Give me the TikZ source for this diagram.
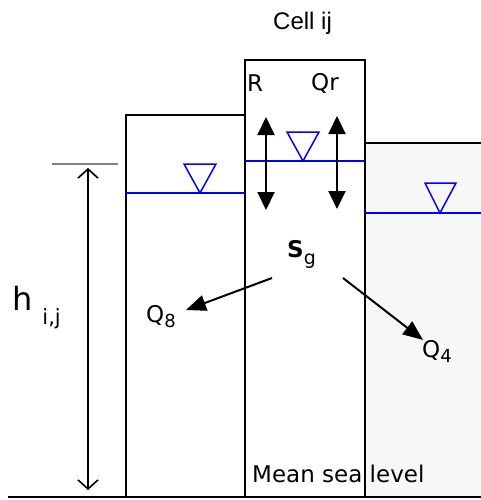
\documentclass[tikz,border=0pt]{standalone}
\usepackage{fontspec}
\setmainfont{Liberation Sans}
\newfontfamily\comicfont{DejaVu Sans}
\usetikzlibrary{arrows.meta}
\begin{document}
\begin{tikzpicture}[x=1pt, y=-1pt,
  every node/.style={inner sep=0pt, anchor=base west, font=\comicfont\fontsize{23}{26}\selectfont},
  column/.style={draw, line width=1.3pt},
  water/.style={draw=blue, line width=1.5pt},
  level/.style={draw=blue, line width=1.5pt, line join=miter},
  flux/.style={line width=2pt, -{Triangle[length=20pt, width=16pt]}},
  vflux/.style={line width=2pt, {Triangle[length=18pt, width=17pt]}-{Triangle[length=18pt, width=17pt]}},
  height/.style={line width=1.6pt, {Straight Barb[length=9pt, width=20pt]}-{Straight Barb[length=9pt, width=20pt]}}
]
\useasboundingbox (0,0) rectangle (481,500);

% right cell, shaded
\fill[gray!6] (365,143) rectangle (481,497);

% columns
\draw[column] (126,497) -- (126,115) -- (245,115);
\draw[column] (245,497) -- (245,60) -- (365,60) -- (365,497);
\draw[column] (365,143) -- (481,143);
\draw[column] (8,497) -- (481,497);

% water levels
\draw[water] (126,193) -- (245,193);
\draw[water] (245,161) -- (365,161);
\draw[water] (365,213) -- (481,213);
\draw[level] (200,193) -- (184,164) -- (216,164) -- cycle;
\draw[level] (303,161) -- (287,132) -- (319,132) -- cycle;
\draw[level] (440,213) -- (425,183) -- (456,183) -- cycle;

% labels
\node[font=\fontsize{24}{28}\selectfont] (cell) at (273,30) {Cell ij};
\node (R) at (247,92) {R};
\node (Qr) at (311,91) {Qr};
\node (Sg) at (287,257) {\textbf{S}\raisebox{-7pt}{\fontsize{19}{20}\selectfont g}};
\node (Q8) at (146,322) {Q\raisebox{-5pt}{\fontsize{18}{20}\selectfont 8}};
\node (Q4) at (422,357) {Q\raisebox{-5pt}{\fontsize{18}{20}\selectfont 4}};
\node (hij) at (12,310) {\fontsize{32}{36}\selectfont h\hspace{10pt}\raisebox{-14pt}{\fontsize{21}{24}\selectfont i,j}};
\node (msl) at (252,482) {Mean sea level};

% vertical exchange
\coordinate (Rtop) at (266,117);
\coordinate (Rbot) at (266,210);
\coordinate (Qrtop) at (337,116);
\coordinate (Qrbot) at (337,209);
\draw[vflux] (Rbot) -- (Rtop);
\draw[vflux] (Qrbot) -- (Qrtop);

% lateral flows
\coordinate (s8) at (272,278);
\coordinate (s4) at (343,278);
\coordinate (e8) at (186,310);
\coordinate (e4) at (423,340);
\draw[flux] (s8) -- (e8);
\draw[flux] (s4) -- (e4);

% head
\coordinate (htop) at (88,168);
\coordinate (hbot) at (88,490);
\draw[gray, line width=1.3pt] (52,164) -- (118,164);
\draw[height] (hbot) -- (htop);
\end{tikzpicture}
\end{document}
